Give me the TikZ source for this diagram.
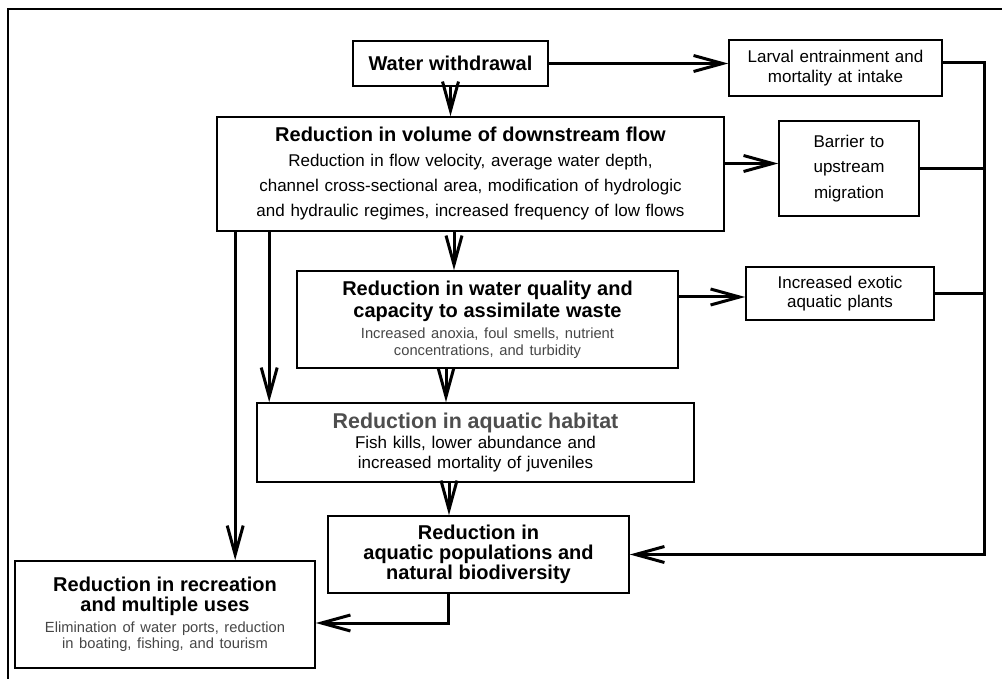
\documentclass[tikz,border=0pt]{standalone}
\usepackage{fontspec}
\setmainfont{Liberation Sans}
\usepackage{xcolor}
\usetikzlibrary{arrows.meta, positioning}
\definecolor{noteGray}{RGB}{70,70,70}
\definecolor{headGray}{RGB}{78,78,78}
% font changes inside a box keep the line spacing set by the box
\newcommand{\boxhead}{\fontsize{20}{\baselineskip}\selectfont\bfseries}
\newcommand{\boxbody}{\normalfont\fontsize{17}{\baselineskip}\selectfont}
\newcommand{\boxnote}{\normalfont\fontsize{14.7}{\baselineskip}\selectfont\color{noteGray}}
\newcommand{\skipfont}[1]{\fontsize{17}{#1}\selectfont}
\tikzstyle{block} = [draw, fill=white, line width=1.6pt, rectangle, inner sep=0pt, align=center]
\tikzstyle{link} = [line width=3pt]

\begin{document}
\begin{tikzpicture}[x=1pt, y=-1pt, >={Straight Barb[length=29pt,width=16pt]}]
        \useasboundingbox (0,0) rectangle (1002,679);
        \draw [line width=1.5pt] (8,679) -- (8,9) -- (1002,9);
        % We start by placing the blocks
        \node [block, minimum width=195pt, minimum height=45pt, text width=185pt, font=\skipfont{20}] (withdrawal) at (450.5,63.5) {\boxhead Water withdrawal};
        \node [block, minimum width=213pt, minimum height=56pt, text width=203pt, font=\skipfont{20}] (larval) at (835.5,68) {Larval entrainment and\\ mortality at intake};
        \node [block, minimum width=507pt, minimum height=114pt, text width=497pt, font=\skipfont{25}] (volume) at (470.5,174) {\boxhead Reduction in volume of downstream flow\\ \boxbody Reduction in flow velocity, average water depth,\\ channel cross-sectional area, modification of hydrologic\\ and hydraulic regimes, increased frequency of low flows};
        \node [block, minimum width=140pt, minimum height=95pt, text width=130pt, font=\skipfont{25.5}] (barrier) at (849,168.5) {Barrier to\\ upstream\\ migration};
        \node [block, minimum width=381pt, minimum height=97pt, text width=371pt, font=\skipfont{17}] (quality) at (487.5,319.5) {\boxhead Reduction in water quality and\\[2pt] capacity to assimilate waste\\[4pt] \boxnote Increased anoxia, foul smells, nutrient\\ concentrations, and turbidity};
        \node [block, minimum width=188pt, minimum height=53pt, text width=178pt, font=\skipfont{19}] (exotic) at (840,293.5) {Increased exotic\\ aquatic plants};
        \node [block, minimum width=437pt, minimum height=79pt, text width=427pt, font=\skipfont{20}] (habitat) at (475.5,442.5) {{\fontsize{21.4}{\baselineskip}\selectfont\bfseries\color{headGray} Reduction in aquatic habitat}\\ \boxbody Fish kills, lower abundance and\\ increased mortality of juveniles};
        \node [block, minimum width=301pt, minimum height=77pt, text width=291pt, font=\skipfont{20}] (populations) at (478.5,554.5) {\boxhead Reduction in\\ aquatic populations and\\ natural biodiversity};
        \node [block, minimum width=300pt, minimum height=107pt, text width=290pt, font=\skipfont{16}] (recreation) at (165,614.5) {\boxhead Reduction in recreation\\[4pt] and multiple uses\\[5pt] \boxnote Elimination of water ports, reduction\\ in boating, fishing, and tourism};

        % Tap points on the box edges
        \coordinate (bus) at (984,0);
        \coordinate (fromLarval) at ([yshift=5pt]larval.east);
        \coordinate (toMig) at ([yshift=5pt]barrier.west);
        \coordinate (toQual) at ([xshift=-16.5pt]volume.south);
        \coordinate (toExotic) at ([yshift=-3.5pt]exotic.west);
        \coordinate (toHab) at ([xshift=-41.5pt]quality.south);
        \coordinate (toPop) at ([xshift=-26.5pt]habitat.south);
        \coordinate (fromPop) at ([xshift=-30.5pt]populations.south);
        \coordinate (toRec) at ([yshift=-8.5pt]recreation.east);
        \coordinate (recTap) at ([xshift=19pt]volume.south west);
        \coordinate (habTap) at ([xshift=53pt]volume.south west);

        % Once the nodes are placed, connecting them is easy.
        \draw [link,->] (withdrawal.east) -- (larval.west |- withdrawal.east);
        \draw [link,->] (withdrawal.south) -- (withdrawal.south |- volume.north);
        \draw [link,->] (fromLarval) -| (bus |- populations.east) -- (populations.east);
        \draw [link] (barrier.east) -- (bus |- barrier.east);
        \draw [link] (exotic.east) -- (bus |- exotic.east);
        \draw [link,->] (volume.east |- toMig) -- (toMig);
        \draw [link,->] (toQual) -- (toQual |- quality.north);
        \draw [link,->] (quality.east |- toExotic) -- (toExotic);
        \draw [link,->] (toHab) -- (toHab |- habitat.north);
        \draw [link,->] (habTap) -- (habTap |- habitat.north);
        \draw [link,->] (recTap) -- (recTap |- recreation.north);
        \draw [link,->] (toPop) -- (toPop |- populations.north);
        \draw [link,->] (fromPop) |- (toRec);
    \end{tikzpicture}
\end{document}
